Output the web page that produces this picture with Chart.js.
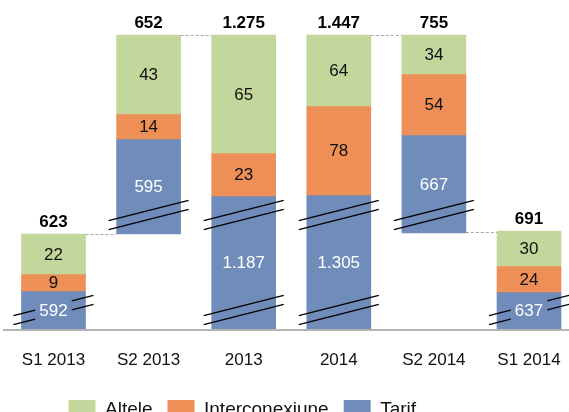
<!DOCTYPE html>
<html>
<head>
<meta charset="utf-8">
<script src="https://cdn.jsdelivr.net/npm/chart.js@4"></script>
<style>
html, body { margin: 0; padding: 0; background: #fff; }
#wrap { width: 569px; height: 412px; }
</style>
</head>
<body>
<div id="wrap"><canvas id="myChart"></canvas></div>
<script>
const categories = ['S1 2013', 'S2 2013', '2013', '2014', 'S2 2014', 'S1 2014'];
const tarif = [592, 595, 1187, 1305, 667, 637];
const interconexiune = [9, 14, 23, 78, 54, 24];
const altele = [22, 43, 65, 64, 34, 30];

// broken axis: bars are drawn at these heights, not to scale
const baseShown = [0, 95, 0, 0, 96, 0];
const tarifShown = [38, 95, 133, 134, 98, 37];
const interShown = [17, 25, 43, 89, 61, 26];
const alteleShown = [40, 79, 118, 71, 39, 35];
const breaks = [[19], [114], [19, 114], [19, 114], [114], [19]];
const connectors = [[0, 1], [1, 2], [3, 4], [4, 5]];

const totals = tarif.map((v, i) => v + interconexiune[i] + altele[i]);
const fmt = v => v.toLocaleString('de-DE');

const tarifTop = baseShown.map((b, i) => b + tarifShown[i]);
const interTop = tarifTop.map((t, i) => t + interShown[i]);
const alteleTop = interTop.map((t, i) => t + alteleShown[i]);

const FONT = '"Liberation Sans", Arial, sans-serif';

const extras = {
    id: 'extras',
    afterDatasetsDraw(chart) {
        const ctx = chart.ctx;
        const y = chart.scales.y;
        const tarifBars = chart.getDatasetMeta(2).data;
        const alteleBars = chart.getDatasetMeta(0).data;
        ctx.save();

        // baseline
        const y0 = y.getPixelForValue(0);
        ctx.strokeStyle = '#b4b4b4';
        ctx.lineWidth = 2;
        ctx.beginPath();
        ctx.moveTo(3, y0 + 1);
        ctx.lineTo(569, y0 + 1);
        ctx.stroke();

        // dashed connectors
        ctx.strokeStyle = '#a8a8a8';
        ctx.lineWidth = 1;
        ctx.setLineDash([3, 2]);
        connectors.forEach(([i, j]) => {
            const a = [baseShown[i], alteleTop[i]];
            const b = [baseShown[j], alteleTop[j]];
            let best = null;
            a.forEach(p => b.forEach(q => {
                if (p === 0 || q === 0) return;
                if (!best || Math.abs(p - q) < Math.abs(best[0] - best[1])) best = [p, q];
            }));
            const py = Math.round(y.getPixelForValue((best[0] + best[1]) / 2)) + 0.5;
            const bi = tarifBars[i], bj = tarifBars[j];
            ctx.beginPath();
            ctx.moveTo(bi.x + bi.width / 2, py);
            ctx.lineTo(bj.x - bj.width / 2, py);
            ctx.stroke();
        });
        ctx.setLineDash([]);

        // break marks
        ctx.strokeStyle = '#000';
        ctx.lineWidth = 1.3;
        const half = 40, slope = 0.256;
        breaks.forEach((list, i) => {
            const cx = tarifBars[i].x;
            list.forEach(b => {
                const cy = y.getPixelForValue(b);
                [-4.5, 4.5].forEach(off => {
                    ctx.beginPath();
                    ctx.moveTo(cx - half, cy + off + half * slope);
                    ctx.lineTo(cx + half, cy + off - half * slope);
                    ctx.stroke();
                });
            });
        });

        // segment labels
        ctx.textAlign = 'center';
        ctx.textBaseline = 'middle';
        ctx.font = '17px ' + FONT;
        const series = [altele, interconexiune, tarif];
        series.forEach((vals, d) => {
            chart.getDatasetMeta(d).data.forEach((bar, i) => {
                const cy = (bar.y + bar.base) / 2 + 1;
                const txt = fmt(vals[i]);
                if (d === 2) {
                    const w = ctx.measureText(txt).width + 8;
                    ctx.fillStyle = '#6f8cba';
                    ctx.fillRect(bar.x - w / 2, cy - 12, w, 24);
                    ctx.fillStyle = '#ffffff';
                } else {
                    ctx.fillStyle = '#111111';
                }
                ctx.fillText(txt, bar.x, cy);
            });
        });

        // totals
        ctx.font = 'bold 17px ' + FONT;
        ctx.fillStyle = '#000000';
        alteleBars.forEach((bar, i) => {
            ctx.fillText(fmt(totals[i]), bar.x, bar.y - 12);
        });
        ctx.restore();
    }
};

const ctx = document.getElementById('myChart').getContext('2d');
const chart = new Chart(ctx, {
    type: 'bar',
    data: {
        labels: categories,
        datasets: [{
            label: 'Altele',
            data: interTop.map((t, i) => [t, alteleTop[i]]),
            backgroundColor: '#c3d69b',
            clip: false
        }, {
            label: 'Interconexiune',
            data: tarifTop.map((t, i) => [t, interTop[i]]),
            backgroundColor: '#ef8f58',
            clip: false
        }, {
            label: 'Tarif',
            data: baseShown.map((b, i) => [b, tarifTop[i]]),
            backgroundColor: '#6f8cba',
            clip: false
        }]
    },
    options: {
        responsive: true,
        maintainAspectRatio: false,
        animation: false,
        devicePixelRatio: 1,
        barThickness: 64,
        layout: {
            padding: { left: 53.5, right: 40, top: 0, bottom: -17 }
        },
        plugins: {
            tooltip: { enabled: false },
            legend: {
                position: 'bottom',
                align: 'start',
                labels: {
                    boxWidth: 27,
                    boxHeight: 19,
                    padding: 15,
                    color: '#111111',
                    font: { family: FONT, size: 19 }
                }
            }
        },
        scales: {
            x: {
                stacked: true,
                offset: false,
                grid: { display: false, drawTicks: false },
                border: { display: false },
                ticks: {
                    padding: 21,
                    color: '#111111',
                    font: { family: FONT, size: 17 },
                    maxRotation: 0,
                    autoSkip: false
                },
                afterFit(scale) {
                    scale.height = 56;
                    scale.paddingLeft = 0;
                    scale.paddingRight = 0;
                }
            },
            y: {
                display: false,
                min: 0,
                max: 329
            }
        }
    },
    plugins: [extras]
});
</script>
</body>
</html>
